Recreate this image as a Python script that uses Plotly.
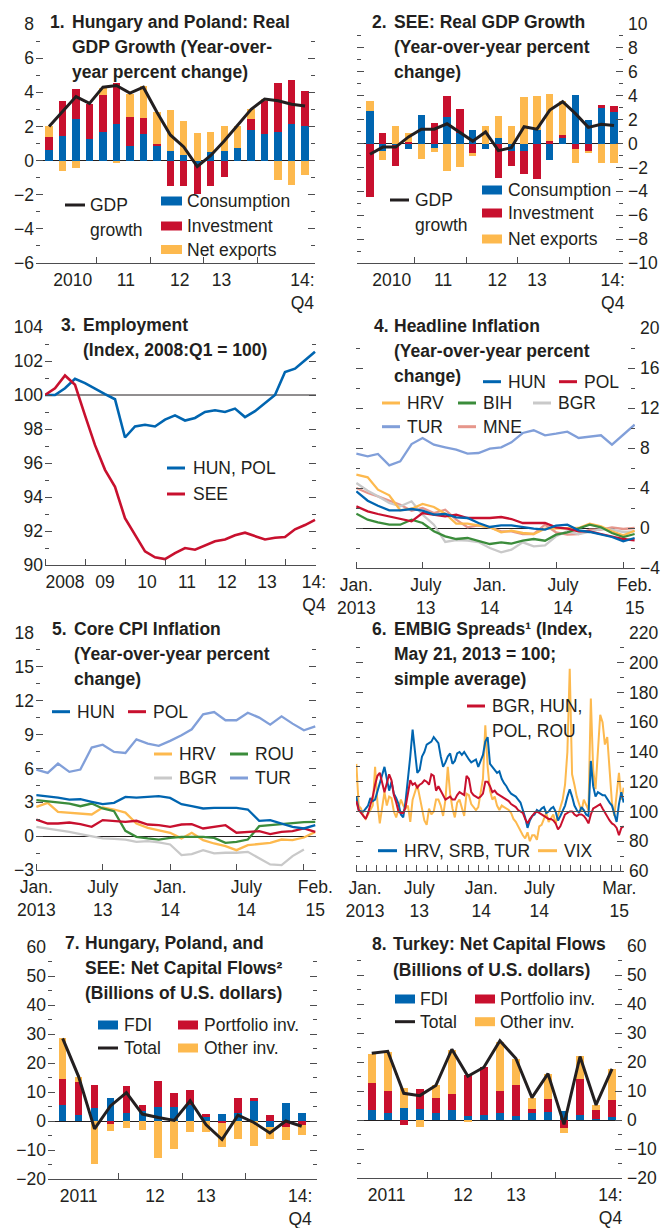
import plotly.graph_objects as go
import pandas as pd

# ---------------- data ----------------
# 1. Hungary and Poland: real GDP growth, contributions, 2010:Q1-2014:Q4
gdp_q = list(range(20))
hp_consumption = [0.6, 1.43, 2.41, 1.25, 1.67, 2.16, 0.88, 1.53, 0.88, 0.59,
                  0.35, -0.25, 0.49, 0.59, 0.75, 1.78, 1.55, 1.67, 2.12, 2.0]
hp_investment = [0.77, 2.07, 1.8, 2.08, 2.15, 2.4, 1.7, 0.96, 0.12, -1.47,
                 -1.47, -1.7, -1.47, -0.98, 0.0, 0.63, 1.98, 2.9, 2.58, 2.06]
hp_net_exports = [0.63, -0.6, -0.45, 0.0, 0.45, -0.15, 1.33, 1.86, 1.82, 2.35,
                  1.94, 1.62, 1.2, 1.46, 1.25, 0.63, 0.1, -1.12, -1.41, -0.86]
hp_gdp = [2.0, 2.9, 3.75, 3.35, 4.3, 4.4, 3.95, 4.3, 2.85, 1.5,
          0.8, -0.35, 0.3, 1.15, 2.05, 3.0, 3.6, 3.5, 3.3, 3.2]

# 2. SEE: real GDP growth
see_consumption = [2.7, -0.6, -0.1, -0.45, 2.42, -0.4, 2.19, 0.92, 1.11, -0.45,
                   0.5, -0.6, -0.65, 1.11, -1.39, 0.47, 4.03, 2.0, 3.0, 2.64]
see_investment = [-4.44, 0.92, -1.75, 0.1, 0.0, 1.75, 1.75, 1.97, -0.78, 0.0,
                  -2.85, -1.26, -1.93, -2.95, 0.19, 0.22, -0.45, -0.65, 0.19, 0.47]
see_net_exports = [0.85, -0.78, 1.5, 0.82, -1.3, -0.33, -2.28, -2.0, -0.27, 1.47,
                   1.78, 1.5, 3.9, 2.89, 3.97, 2.9, -1.15, -0.13, -1.6, -1.6]
see_gdp = [-0.9, -0.3, -0.3, 0.55, 1.2, 1.2, 1.65, 0.9, 0.2, 0.97,
           -0.6, -0.35, 1.4, 1.2, 2.8, 3.5, 2.5, 1.35, 1.6, 1.5]

# 3. Employment, 2008:Q1-2014:Q4
emp_q = list(range(28))
emp_hun_pol = [100.0, 100.0, 100.4, 100.95, 100.7, 100.35, 100.05, 99.75, 97.5, 98.15,
               98.25, 98.15, 98.55, 98.8, 98.5, 98.65, 99.0, 99.1, 99.0, 99.2,
               98.7, 99.05, 99.5, 100.0, 101.35, 101.55, 102.05, 102.55]
emp_see = [100.0, 100.4, 101.15, 100.6, 98.8, 97.05, 95.6, 94.6, 92.75, 91.75,
           90.8, 90.45, 90.35, 90.7, 91.0, 90.9, 91.15, 91.4, 91.5, 91.75,
           91.9, 91.7, 91.5, 91.6, 91.65, 92.1, 92.35, 92.65]

# 4. Headline inflation, Jan. 2013 - Feb. 2015
infl_months = pd.date_range('2013-01-01', periods=26, freq='MS')
head_tur = [7.43, 7.17, 7.4, 6.27, 6.67, 8.4, 9.0, 8.33, 8.07, 7.83, 7.43, 7.5, 7.93,
            8.07, 8.57, 9.5, 9.77, 9.27, 9.43, 9.63, 9.0, 9.1, 9.27, 8.33, 9.33, 10.33]
head_hrv = [5.33, 5.07, 3.83, 3.27, 1.77, 1.93, 2.4, 2.1, 1.43, 0.43, 0.43, 0.27, 0.07,
            -0.43, -0.27, -0.5, -0.6, -0.07, -0.07, -0.07, 0.0, 0.43, 0.17, -0.33, -0.73, -0.27]
head_bgr = [4.5, 3.73, 3.17, 2.5, 2.17, 2.67, 1.33, 0.33, -1.4, -1.2, -1.27, -1.4, -2.0,
            -2.43, -2.17, -1.43, -1.83, -1.73, -0.83, -0.33, -0.6, -0.4, -0.1, -0.17, -0.4, -0.33]
head_mne = [4.0, 3.5, 3.17, 2.73, 2.33, 1.73, 2.0, 1.5, 1.83, 0.83, 0.07, 0.27, 0.07,
            -0.33, -0.33, -0.6, -0.6, 0.33, -0.43, -0.67, -0.6, -0.17, -0.17, 0.07, -0.1, 0.0]
head_bih = [1.43, 0.83, 0.57, 0.33, 0.33, 0.83, 0.5, -0.33, -0.83, -1.1, -1.0, -1.27, -1.6,
            -1.43, -1.57, -1.27, -1.1, -1.27, -0.67, -0.43, -0.07, 0.33, 0.07, -0.5, -0.9, -0.6]
head_pol = [2.17, 1.67, 1.4, 1.17, 0.9, 0.67, 1.5, 1.33, 1.17, 1.33, 1.0, 1.0, 1.0,
            1.1, 0.9, 0.5, 0.5, 0.5, 0.07, -0.07, -0.33, -0.33, -0.6, -0.83, -1.1, -1.23]
head_hun = [3.67, 2.73, 2.23, 1.77, 1.77, 1.9, 1.73, 1.33, 1.4, 1.07, 1.0, 0.5, 0.1,
            0.27, 0.27, 0.07, -0.07, -0.17, 0.23, 0.33, -0.23, -0.4, -0.67, -0.9, -1.33, -1.0]

# 5. Core CPI inflation
core_tur = [5.9, 5.6, 6.43, 5.7, 5.9, 7.85, 8.1, 7.46, 7.37, 8.58, 8.2, 8.0, 8.44,
            8.94, 9.47, 10.8, 11.0, 10.27, 10.27, 10.94, 10.5, 9.88, 10.62, 9.97, 9.38, 9.73]
core_bgr = [0.83, 0.68, 0.53, 0.38, 0.18, 0.0, -0.2, -0.24, -0.3, -0.5, -0.44, -0.56, -0.74,
            -1.68, -1.59, -1.24, -1.53, -1.47, -1.47, -1.39, -1.98, -2.51, -2.57, -1.77, -1.18]
core_hrv = [2.6, 2.95, 2.15, 2.06, 1.95, 1.92, 2.54, 2.36, 2.09, 1.12, 0.74, 0.53, 0.3,
            -0.2, 0.3, -0.35, -0.65, -0.88, -1.24, -0.8, -0.7, -0.59, -0.3, -0.35, -0.12, 0.38]
core_rou = [3.19, 3.1, 2.98, 2.89, 2.65, 2.89, 2.45, 2.21, 0.47, -0.06, -0.2, -0.3, -0.15,
            -0.06, -0.06, -0.06, -0.15, -0.59, -0.5, -0.3, 0.88, 0.97, 1.12, 1.21, 1.24, 1.27]
core_pol = [1.47, 1.12, 1.12, 1.21, 1.06, 0.83, 1.42, 1.36, 1.27, 1.36, 1.03, 0.97, 0.83,
            1.03, 1.06, 0.68, 0.83, 0.97, 0.3, 0.38, 0.44, 0.18, 0.38, 0.44, 0.68, 0.38]
core_hun = [3.63, 3.54, 3.42, 3.24, 3.27, 3.04, 2.83, 2.95, 3.48, 3.42, 3.48, 3.54, 3.39,
            2.83, 2.65, 2.45, 2.51, 2.51, 2.51, 2.36, 1.36, 1.42, 1.12, 0.83, 0.68, 0.97]

# 6. EMBIG spreads (index, May 21, 2013 = 100), weekly readings
embig_weeks = pd.date_range('2013-01-01', periods=115, freq='7D')
spr_hrv_srb_tur = [110, 101, 100, 100, 102, 104, 109, 107, 108, 114,
                   119, 126, 130, 122, 114, 120, 112, 109, 105, 98,
                   96, 107, 120, 137, 155, 138, 126, 128, 137, 140,
                   145, 146, 147, 150, 148, 146, 137, 130, 133, 137,
                   139, 132, 134, 139, 140, 138, 140, 137, 135, 133,
                   134, 135, 130, 134, 138, 147, 150, 132, 130, 128,
                   126, 127, 122, 119, 117, 114, 112, 111, 110, 108,
                   106, 101, 96, 89, 94, 97, 98, 101, 100, 102,
                   103, 99, 100, 102, 103, 100, 94, 97, 100, 104,
                   110, 115, 110, 104, 101, 99, 103, 101, 98, 97,
                   134, 117, 110, 113, 112, 111, 111, 108, 106, 104,
                   99, 93, 105, 113, 106]
spr_bgr_hun_pol_rou = [107, 101, 99, 97, 95, 99, 104, 110, 118, 124,
                       126, 119, 113, 119, 125, 121, 111, 106, 100, 99,
                       99, 103, 112, 121, 118, 119, 116, 118, 119, 121,
                       120, 118, 125, 124, 114, 117, 114, 111, 108, 109,
                       110, 108, 108, 111, 113, 112, 111, 124, 122, 113,
                       111, 110, 109, 110, 112, 120, 120, 117, 113, 114,
                       112, 111, 110, 109, 108, 107, 105, 104, 103, 101,
                       100, 99, 95, 92, 95, 97, 99, 100, 99, 98,
                       97, 96, 95, 95, 94, 92, 88, 90, 94, 98,
                       99, 100, 100, 98, 97, 98, 98, 97, 95, 92,
                       98, 102, 103, 104, 105, 102, 99, 97, 94, 92,
                       91, 89, 84, 89, 90]
spr_vix = [132, 104, 102, 97, 95, 98, 101, 104, 130, 106,
           92, 104, 113, 104, 110, 109, 100, 96, 103, 108,
           104, 102, 104, 93, 108, 114, 118, 110, 102, 94,
           91, 102, 98, 100, 108, 108, 104, 97, 108, 130,
           112, 102, 96, 106, 108, 103, 97, 112, 111, 105,
           103, 101, 103, 114, 122, 158, 130, 114, 108, 110,
           104, 101, 104, 103, 102, 101, 99, 95, 93, 90,
           86, 84, 82, 86, 80, 84, 84, 81, 90, 91,
           95, 99, 93, 96, 98, 92, 97, 103, 108, 118,
           140, 196, 125, 118, 110, 105, 100, 108, 104, 101,
           176, 128, 115, 140, 165, 160, 145, 150, 128, 106,
           97, 112, 126, 108, 116]

# 7. Hungary, Poland, and SEE: net capital flows, 2011:Q1-2014:Q4
flow_q = list(range(16))
cee_fdi = [5.5, 2.07, 4.6, 8.04, 2.76, 3.4, 4.9, 4.9, 5.5, 1.4, 2.5, 2.8, 6.9, -2.0, 6.2, 2.8]
cee_portfolio = [8.85, 11.25, 7.8, -1.0, 9.3, 2.1, 8.9, 4.6, 5.2, 0.9, -0.6, 5.2, 1.1, 2.1, -2.0, -1.5]
cee_other = [14.35, 1.95, -14.9, -2.3, -2.3, -3.0, -12.6, -9.5, -3.7, -3.7, -8.2, -6.1, -8.5, -4.2, -4.5, -3.2]
cee_total = [28.5, 15.3, -2.7, 5.2, 9.8, 2.4, 1.2, 0.2, 7.0, -1.3, -6.4, 2.0, -0.5, -4.1, 0.0, -1.8]

# 8. Turkey: net capital flows
tur_fdi = [3.6, 2.3, 4.1, 3.8, 2.5, 3.6, 1.5, 1.8, 2.3, 1.5, 2.5, 2.9, 3.2, 1.6, 0.3, 1.0]
tur_portfolio = [9.2, 7.7, -1.7, 6.9, 5.1, 5.5, 14.0, 16.6, 7.7, 10.4, 1.3, 4.4, -2.8, 12.6, 3.2, 5.9]
tur_other = [10.0, 13.5, 6.8, -2.4, 4.3, 15.1, -0.5, 0.0, 16.9, 9.3, 3.9, 8.6, -1.6, 7.7, 1.7, 10.7]
tur_total = [23.0, 23.7, 9.2, 8.4, 11.9, 24.4, 15.1, 18.2, 27.3, 21.2, 7.7, 16.0, -1.5, 21.9, 5.2, 17.6]

# ---------------- styling ----------------
W, H = 665, 1228
FONT = 'Liberation Sans, Arial, sans-serif'
FS = 17.5
TXT = '#231F20'
AXC = '#4D4D4F'
BLUE = '#0065B0'
RED = '#C8102E'
GOLD = '#FDB94E'
GREEN = '#3B8C3B'
GREY = '#C9C9C9'
LBLUE = '#819FD9'
PINK = '#E6968B'
BLACK = '#231F20'

# plot areas in pixels: (x0, x1), (ytop, ybottom)
panels = {
    1: ((36, 315), (24, 263)),
    2: ((357, 623), (24, 263)),
    3: ((45, 316), (327, 565)),
    4: ((356, 635), (328, 568)),
    5: ((36, 316), (633, 870)),
    6: ((356, 624), (633, 871)),
    7: ((48, 317), (947, 1179)),
    8: ((357, 622), (946, 1178)),
}


def fx(p):
    return p / W


def fy(p):
    return 1 - p / H


def names(n):
    return ('x' if n == 1 else f'x{n}'), ('y' if n == 1 else f'y{n}')


fig = go.Figure()


def bar(n, x, y, color, width):
    xa, ya = names(n)
    fig.add_trace(go.Bar(x=x, y=y, width=width, marker=dict(color=color, line_width=0),
                         xaxis=xa, yaxis=ya, showlegend=False, hoverinfo='skip'))


def line(n, x, y, color, lw):
    xa, ya = names(n)
    fig.add_trace(go.Scatter(x=x, y=y, mode='lines', line=dict(color=color, width=lw),
                             xaxis=xa, yaxis=ya, showlegend=False, hoverinfo='skip'))


# panel 1
bar(1, gdp_q, hp_consumption, BLUE, 0.55)
bar(1, gdp_q, hp_investment, RED, 0.55)
bar(1, gdp_q, hp_net_exports, GOLD, 0.55)
line(1, gdp_q, hp_gdp, BLACK, 3)
# panel 2
bar(2, gdp_q, see_consumption, BLUE, 0.57)
bar(2, gdp_q, see_investment, RED, 0.57)
bar(2, gdp_q, see_net_exports, GOLD, 0.57)
line(2, gdp_q, see_gdp, BLACK, 3)
# panel 3
line(3, emp_q, emp_hun_pol, BLUE, 2.6)
line(3, emp_q, emp_see, RED, 2.6)
# panel 4
line(4, infl_months, head_tur, LBLUE, 2.3)
line(4, infl_months, head_mne, PINK, 2.3)
line(4, infl_months, head_bgr, GREY, 2.3)
line(4, infl_months, head_hrv, GOLD, 2.3)
line(4, infl_months, head_bih, GREEN, 2.3)
line(4, infl_months, head_pol, RED, 2.3)
line(4, infl_months, head_hun, BLUE, 2.3)
# panel 5
line(5, infl_months, core_tur, LBLUE, 2.3)
line(5, infl_months[:len(core_bgr)], core_bgr, GREY, 2.3)
line(5, infl_months, core_hrv, GOLD, 2.3)
line(5, infl_months, core_rou, GREEN, 2.3)
line(5, infl_months, core_pol, RED, 2.3)
line(5, infl_months, core_hun, BLUE, 2.3)
# panel 6
line(6, embig_weeks, spr_vix, GOLD, 2)
line(6, embig_weeks, spr_hrv_srb_tur, BLUE, 2)
line(6, embig_weeks, spr_bgr_hun_pol_rou, RED, 2)
# panel 7
bar(7, flow_q, cee_fdi, BLUE, 0.48)
bar(7, flow_q, cee_portfolio, RED, 0.48)
bar(7, flow_q, cee_other, GOLD, 0.48)
line(7, flow_q, cee_total, BLACK, 3)
# panel 8
bar(8, flow_q, tur_fdi, BLUE, 0.5)
bar(8, flow_q, tur_portfolio, RED, 0.5)
bar(8, flow_q, tur_other, GOLD, 0.5)
line(8, flow_q, tur_total, BLACK, 3)

tickfont = dict(family=FONT, size=FS, color=TXT)
layout = {}


def set_x(n, rng, lab_at, lab, tick_at=None, minor=None, typ='linear'):
    (x0, x1), _ = panels[n]
    key = 'xaxis' if n == 1 else f'xaxis{n}'
    if minor is None:
        minor = dict(tickmode='array', tickvals=tick_at)
    minor.update(ticks='inside', ticklen=6, tickwidth=1, tickcolor=AXC, showgrid=False)
    layout[key] = dict(domain=[fx(x0), fx(x1)], range=rng, type=typ, anchor=names(n)[1],
                       showgrid=False, zeroline=False, showline=True, linecolor=AXC, linewidth=1,
                       ticks='', tickmode='array', tickvals=lab_at, ticktext=lab,
                       ticklabelstandoff=1, automargin=False,
                       tickfont=tickfont, minor=minor, fixedrange=True)


def set_y(n, rng, dtick, mdtick, side, zero=True):
    _, (y0, y1) = panels[n]
    key = 'yaxis' if n == 1 else f'yaxis{n}'
    layout[key] = dict(domain=[fy(y1), fy(y0)], range=rng, anchor=names(n)[0], side=side,
                       tickmode='linear', tick0=rng[0], dtick=dtick,
                       ticks='inside', ticklen=7, tickwidth=1, tickcolor=AXC, mirror='ticks',
                       ticklabelstandoff=4 if side == 'right' else 1, automargin=False,
                       showline=False, showgrid=False, zeroline=zero, zerolinecolor=BLACK,
                       zerolinewidth=1, tickfont=tickfont, fixedrange=True,
                       minor=dict(tick0=rng[0], dtick=mdtick, ticks='inside', ticklen=4,
                                  tickwidth=1, tickcolor=AXC, showgrid=False))


year_bounds = [3.5, 7.5, 11.5, 15.5]
set_x(1, [-0.97, 19.74], [1.76, 5.7, 9.7, 12.8, 18.8], ['2010', '11', '12', '13', '14:<br>Q4'], year_bounds)
set_x(2, [-1.01, 19.7], [1.7, 5.7, 9.9, 13.0, 18.9], ['2010', '11', '12', '13', '14:<br>Q4'], year_bounds)
set_x(3, [0, 27.1], [2, 6, 10.2, 14.2, 18.2, 22.2, 26.9],
      ['2008', '09', '10', '11', '12', '13', '14:<br>Q4'], [0, 4, 8, 12, 16, 20, 24])
month_ticks = ['2013-01-01', '2013-07-01', '2014-01-01', '2014-07-01', '2015-01-01']
set_x(4, ['2012-12-31', '2015-02-02'],
      ['2013-01-01', '2013-07-10', '2014-01-01', '2014-07-20', '2015-02-01'],
      ['Jan.<br>2013', 'July<br>13', 'Jan.<br>14', 'July<br>14', 'Feb.<br>15'], month_ticks, typ='date')
set_x(5, ['2012-12-31', '2015-02-03'],
      ['2013-01-01', '2013-07-01', '2014-01-01', '2014-07-28', '2015-02-01'],
      ['Jan.<br>2013', 'July<br>13', 'Jan.<br>14', 'July<br>14', 'Feb.<br>15'], month_ticks, typ='date')
set_x(6, ['2012-12-31', '2015-03-11'],
      ['2013-01-27', '2013-07-08', '2014-01-09', '2014-07-01', '2015-02-25'],
      ['Jan.<br>2013', 'July<br>13', 'Jan.<br>14', 'July<br>14', 'Mar.<br>15'],
      minor=dict(dtick='M1', tick0='2013-01-01'), typ='date')
set_x(7, [-0.92, 15.96], [1.0, 5.8, 9.0, 14.9], ['2011', '12', '13', '14:<br>Q4'], [3.5, 7.5, 11.5])
set_x(8, [-0.92, 15.62], [0.93, 5.7, 9.0, 14.9], ['2011', '12', '13', '14:<br>Q4'], [3.5, 7.5, 11.5])

set_y(1, [-6, 8], 2, 1, 'left')
set_y(2, [-10, 10], 2, 1, 'right')
set_y(3, [90, 104], 2, 1, 'left', zero=False)
set_y(4, [-4, 20], 4, 2, 'right')
set_y(5, [-3, 18], 3, 1.5, 'left')
set_y(6, [60, 220], 20, 10, 'right', zero=False)
set_y(7, [-20, 60], 10, 5, 'left')
set_y(8, [-20, 60], 10, 5, 'right')

shapes = [
    dict(type='line', xref='x3 domain', yref='y3', x0=0, x1=1, y0=100, y1=100,
         line=dict(color=BLACK, width=1), layer='below'),
    dict(type='line', xref='x6 domain', yref='y6', x0=0, x1=1, y0=100, y1=100,
         line=dict(color='#555555', width=1.2), layer='above'),
]
annotations = []


def text(x, y, s, bold=False, size=FS):
    annotations.append(dict(xref='paper', yref='paper', x=fx(x), y=fy(y), xanchor='left',
                            yanchor='middle', showarrow=False, align='left',
                            text=f'<b>{s}</b>' if bold else s,
                            font=dict(family=FONT, size=size, color=TXT)))


def title(num, nx, bx, ys, lines):
    text(nx, ys[0], num, bold=True)
    for y, s in zip(ys, lines):
        text(bx, y, s, bold=True)


def key_line(x0, x1, y, color, w=3):
    shapes.append(dict(type='line', xref='paper', yref='paper', x0=fx(x0), x1=fx(x1),
                       y0=fy(y), y1=fy(y), line=dict(color=color, width=w)))


def key_box(x0, x1, y, color, h=9):
    shapes.append(dict(type='rect', xref='paper', yref='paper', x0=fx(x0), x1=fx(x1),
                       y0=fy(y + h / 2), y1=fy(y - h / 2), fillcolor=color, line_width=0))


# titles
title('1.', 48, 70, [21.7, 46.7, 71.7],
      ['Hungary and Poland: Real', 'GDP Growth (Year-over-', 'year percent change)'])
title('2.', 370, 391.7, [21.7, 46.7, 71.7],
      ['SEE: Real GDP Growth', '(Year-over-year percent', 'change)'])
title('3.', 59.3, 81, [325, 350], ['Employment', '(Index, 2008:Q1 = 100)'])
title('4.', 371.7, 391.7, [325.7, 350.7, 375.7],
      ['Headline Inflation', '(Year-over-year percent', 'change)'])
title('5.', 50, 71.7, [629, 654, 679],
      ['Core CPI Inflation', '(Year-over-year percent', 'change)'])
title('6.', 370, 391.7, [629, 654, 679],
      ['EMBIG Spreads¹ (Index,', 'May 21, 2013 = 100;', 'simple average)'])
title('7.', 63.3, 83.3, [943.3, 968.3, 993.3],
      ['Hungary, Poland, and', 'SEE: Net Capital Flows²', '(Billions of U.S. dollars)'])
title('8.', 370, 390.7, [944, 970], ['Turkey: Net Capital Flows', '(Billions of U.S. dollars)'])

# legends
key_line(65, 85, 205, BLACK)
text(88, 205, 'GDP')
text(88, 230, 'growth')
key_box(161, 182, 201, BLUE)
text(185, 201, 'Consumption')
key_box(161, 182, 226, RED)
text(185, 226, 'Investment')
key_box(161, 182, 249.5, GOLD)
text(185, 249.5, 'Net exports')

key_line(390, 409, 200, BLACK)
text(413, 200, 'GDP')
text(413, 225, 'growth')
key_box(482, 502, 190, BLUE)
text(506, 190, 'Consumption')
key_box(482, 502, 213, RED)
text(506, 213, 'Investment')
key_box(482, 502, 239, GOLD)
text(506, 239, 'Net exports')

key_line(167, 185, 468, BLUE)
text(190.7, 468, 'HUN, POL')
key_line(167, 185, 494, RED)
text(190.7, 494, 'SEE')

for x0, y, col, lab in [(483, 381.7, BLUE, 'HUN'), (559, 381.7, RED, 'POL'),
                        (382, 403, GOLD, 'HRV'), (458, 403, GREEN, 'BIH'), (533, 403, GREY, 'BGR'),
                        (382, 426.7, LBLUE, 'TUR'), (458, 426.7, PINK, 'MNE')]:
    key_line(x0, x0 + 18, y, col)
    text(x0 + 23, y, lab)

for x0, y, col, lab in [(52, 711.7, BLUE, 'HUN'), (128, 711.7, RED, 'POL'),
                        (154, 754, GOLD, 'HRV'), (230, 754, GREEN, 'ROU'),
                        (154, 778, GREY, 'BGR'), (230, 778, LBLUE, 'TUR')]:
    key_line(x0, x0 + 18, y, col)
    text(x0 + 23, y, lab)

key_line(467, 485, 706, RED)
text(490, 706, 'BGR, HUN,')
text(490, 730.7, 'POL, ROU')
key_line(378, 397, 850.7, BLUE)
text(401.7, 850.7, 'HRV, SRB, TUR')
key_line(538, 557, 850.7, GOLD)
text(561.7, 850.7, 'VIX')

for (bx, tx, by, col, lab) in [(98, 121.7, 1025, BLUE, 'FDI'), (178, 202, 1025, RED, 'Portfolio inv.'),
                               (178, 202, 1048, GOLD, 'Other inv.'),
                               (395, 418, 999, BLUE, 'FDI'), (475, 498, 999, RED, 'Portfolio inv.'),
                               (475, 498, 1021.7, GOLD, 'Other inv.')]:
    key_box(bx, bx + 20, by, col)
    text(tx, by, lab)
key_line(98, 118, 1048, BLACK)
text(121.7, 1048, 'Total')
key_line(395, 415, 1021.7, BLACK)
text(418, 1021.7, 'Total')

fig.update_layout(
    width=W, height=H, margin=dict(l=0, r=0, t=0, b=0, autoexpand=False),
    paper_bgcolor='white', plot_bgcolor='white',
    barmode='relative', bargap=0, showlegend=False,
    font=dict(family=FONT, size=FS, color=TXT),
    shapes=shapes, annotations=annotations, **layout)

fig.write_html("out.html", config={'displayModeBar': False},
               post_script="document.body.style.margin='0';")
